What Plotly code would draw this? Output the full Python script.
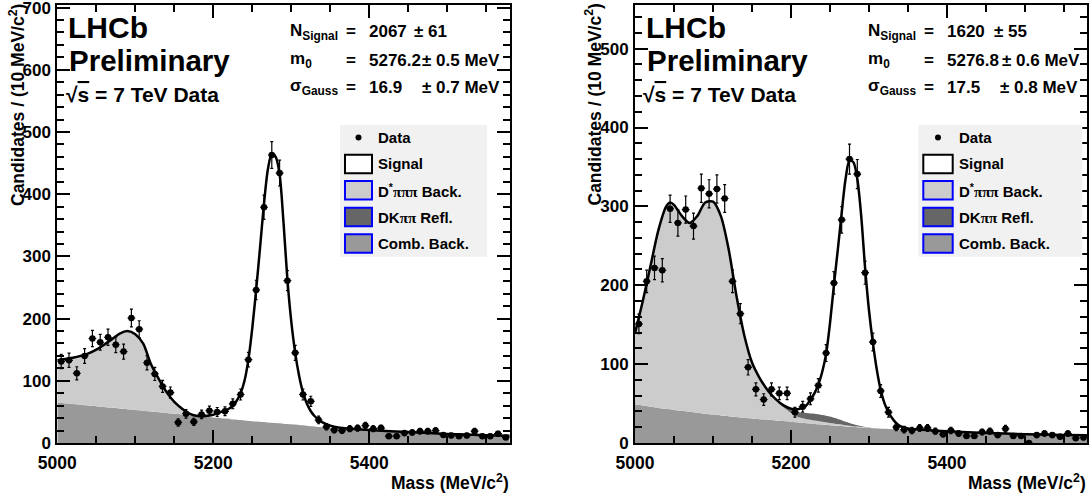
import numpy as np
import plotly.graph_objects as go

W, H = 1092, 496

# ---------------- data ----------------
bin_centers = list(range(5005, 5580, 10))  # 58 bins of 10 MeV

left_counts = [131, 133, 112, 140, 168, 162, 170, 158, 147, 201,
               183, 129, 111, 91, 81, 33, 47, 34, 46, 52,
               50, 51, 63, 78, 134, 246, 379, 463, 434, 261,
               145, 78, 67, 37, 26, 21, 20, 23, 24, 28,
               23, 24, 11, 11, 16, 17, 19, 19, 20, 13,
               12, 11, 12, 19, 11, 11, 15, 9]

right_counts = [151, 205, 222, 219, 297, 279, 296, 275, 323, 316,
                322, 310, 205, 164, 96, 68, 55, 68, 63, 63,
                39, 46, 56, 73, 114, 203, 283, 360, 341, 216,
                128, 66, 39, 20, 17, 16, 19, 19, 15, 11,
                16, 12, 9, 9, 14, 15, 10, 18, 9, 9,
                0, 10, 12, 10, 8, 12, 6, 7]

# background components sampled every 10 MeV (5000..5580)
bkg_x = list(range(5000, 5581, 10))

left_comb = [65, 63.8, 62.6, 61.4, 60.2, 59, 57.8, 56.6, 55.4, 54.2,
             53, 51.8, 50.6, 49.4, 48.2, 47, 45.8, 44.6, 43.4, 42.2,
             41, 39.8, 38.6, 37.4, 36.2, 35, 34, 33, 32, 31,
             30, 28.8, 27.6, 26.4, 25.2, 24, 23.2, 22.4, 21.6, 20.8,
             20, 19.4, 18.8, 18.2, 17.6, 17, 16.4, 15.8, 15.2, 14.6,
             14, 13.6, 13.2, 12.8, 12.4, 12, 11.7, 11.3, 11]
left_dstar = [68, 71.2, 74.4, 78.6, 83.8, 91, 100.2, 110.4, 120.6, 125.8,
              122, 108.2, 76.4, 53.6, 33.8, 19, 9.2, 2.4, 0.8, 0.8,
              0.8, 0.7, 0.6, 0.5, 0.4, 0.3, 0.2, 0.1, 0, 0,
              0, 0, 0, 0, 0, 0, 0, 0, 0, 0,
              0, 0, 0, 0, 0, 0, 0, 0, 0, 0,
              0, 0, 0, 0, 0, 0, 0, 0, 0]
left_dk = [0, 0, 0, 0, 0, 0, 0, 0, 0, 0,
           0, 0, 0, 0, 0, 0, 0, 0, 0, 0,
           0, 0, 0, 0, 0, 0, 0, 0, 0, 0,
           0, 0, 0, 0, 0, 0, 0, 0, 0, 0,
           0, 0, 0, 0, 0, 0, 0, 0, 0, 0,
           0, 0, 0, 0, 0, 0, 0, 0, 0]

right_comb = [49, 47.5, 46, 44.5, 43.3, 42, 40.8, 39.6, 38.4, 37.2,
              36, 35, 34, 33, 32, 31, 30.2, 29.4, 28.6, 27.8,
              27, 26, 25, 24.2, 23.4, 22.5, 21.8, 21, 20.3, 19.6,
              19, 18.5, 18, 17.5, 17, 16.5, 16, 15.7, 15.3, 14.9,
              14.5, 14.1, 13.7, 13.3, 12.9, 12.5, 12.2, 11.9, 11.6, 11.3,
              11, 10.8, 10.6, 10.4, 10.2, 10, 9.8, 9.7, 9.5]
right_dstar = [90, 132.5, 179, 225.5, 256.7, 260, 247.2, 239.4, 249.6, 267.8,
               270, 253, 212, 154, 105, 71, 51.8, 37.6, 26.9, 17.7,
               11, 6.5, 5, 4.3, 3.6, 3, 2.2, 1.5, 0.9, 0.6,
               0.4, 0.2, 0, 0, 0, 0, 0, 0, 0, 0,
               0, 0, 0, 0, 0, 0, 0, 0, 0, 0,
               0, 0, 0, 0, 0, 0, 0, 0, 0]
right_dk = [0, 0, 0, 0, 0, 0, 0, 0, 0, 0,
            0, 0, 0, 0, 0, 0, 0, 0, 0.5, 2,
            4, 6.5, 8, 8.5, 8.5, 8, 6.5, 4.5, 2.5, 1,
            0.3, 0, 0, 0, 0, 0, 0, 0, 0, 0,
            0, 0, 0, 0, 0, 0, 0, 0, 0, 0,
            0, 0, 0, 0, 0, 0, 0, 0, 0]

# total fit curves
left_fit_x = [5000, 5010, 5020, 5030, 5040, 5050, 5060, 5070, 5080, 5090,
              5100, 5110, 5120, 5130, 5140, 5150, 5160, 5170, 5180, 5190,
              5200, 5210, 5220, 5225, 5230, 5235, 5240, 5245, 5250, 5255,
              5260, 5265, 5270, 5275, 5280, 5285, 5290, 5295, 5300, 5305,
              5310, 5315, 5320, 5325, 5330, 5335, 5340, 5350, 5360, 5380,
              5400, 5450, 5500, 5550, 5580]
left_fit_y = [133, 135, 137, 140, 144, 150, 158, 167, 176, 180,
              175, 160, 127, 103, 82, 66, 55, 47, 43.5, 43.5,
              45.5, 50, 55, 60, 68, 80, 100, 134, 185, 247,
              315, 385, 440, 465, 460, 432, 355, 263, 195, 145,
              108, 81, 63, 51, 43, 37.5, 33, 28, 25, 22.5,
              20.7, 17.5, 14.6, 12.5, 11.5]

right_fit_x = [5000, 5010, 5020, 5030, 5040, 5045, 5050, 5060, 5070, 5080,
               5090, 5100, 5110, 5120, 5130, 5140, 5150, 5160, 5170, 5180,
               5190, 5200, 5210, 5215, 5220, 5225, 5230, 5235, 5240, 5245,
               5250, 5255, 5260, 5265, 5270, 5275, 5280, 5285, 5290, 5295,
               5300, 5305, 5310, 5315, 5320, 5325, 5330, 5335, 5340, 5350,
               5360, 5380, 5400, 5450, 5500, 5550, 5580]
right_fit_y = [139, 180, 225, 270, 300, 305, 302, 288, 279, 288,
               305, 306, 288, 246, 187, 137, 102, 82, 67, 56,
               48, 43.5, 43, 45, 48, 55, 63, 74, 90, 113,
               152, 200, 245, 292, 335, 358, 356, 335, 288, 222,
               168, 127, 93, 67, 50, 39, 31, 25, 21.5, 18.5,
               17.3, 16, 15, 12.8, 11.2, 10.2, 9.8]

left_stats = [("N<sub>Signal</sub>", "2067", "± 61"),
              ("m<sub>0</sub>", "5276.2", "± 0.5 MeV"),
              ("σ<sub>Gauss</sub>", "16.9", "± 0.7 MeV")]
right_stats = [("N<sub>Signal</sub>", "1620", "± 55"),
               ("m<sub>0</sub>", "5276.8", "± 0.6 MeV"),
               ("σ<sub>Gauss</sub>", "17.5", "± 0.8 MeV")]

legend_labels = ["Data", "Signal",
                 "D<sup>*</sup><span style='font-family:Liberation Serif'>πππ</span> Back.",
                 "DK<span style='font-family:Liberation Serif'>ππ</span> Refl.",
                 "Comb. Back."]

x_range = [5000, 5580]
left_y_range = [0, 705]
right_y_range = [0, 556]

# ---------------- style ----------------
FONT = "Liberation Sans, Arial, Helvetica, sans-serif"
COMB_C, DSTAR_C, DK_C = "#999999", "#cccccc", "#666666"


def PX(x):
    return x / W


def PY(y):
    return 1 - y / H


fig = go.Figure()


def add_panel(xa, ya, counts, fit_x, fit_y, comb, dstar, dk):
    c = np.array(comb, dtype=float)
    d = np.array(dstar, dtype=float)
    k = np.array(dk, dtype=float)
    common = dict(mode="lines", xaxis=xa, yaxis=ya, hoverinfo="skip", showlegend=False)
    fig.add_trace(go.Scatter(x=bkg_x, y=c, fill="tozeroy", fillcolor=COMB_C,
                             line=dict(width=0, shape="spline", smoothing=0.7), **common))
    fig.add_trace(go.Scatter(x=bkg_x, y=c + d, fill="tonexty", fillcolor=DSTAR_C,
                             line=dict(width=0, shape="spline", smoothing=0.7), **common))
    fig.add_trace(go.Scatter(x=bkg_x, y=c + d + k, fill="tonexty", fillcolor=DK_C,
                             line=dict(width=0, shape="spline", smoothing=0.7), **common))
    fig.add_trace(go.Scatter(x=fit_x, y=fit_y, line=dict(color="black", width=2.5, shape="spline", smoothing=0.8),
                             **common))
    cnt = np.array(counts, dtype=float)
    fig.add_trace(go.Scatter(x=bin_centers, y=cnt, mode="markers", xaxis=xa, yaxis=ya, showlegend=False,
                             marker=dict(color="black", size=6.5),
                             error_y=dict(type="data", array=np.sqrt(cnt), color="black", thickness=1.2, width=1.5),
                             error_x=dict(type="constant", value=5, color="black", thickness=1.2, width=0)))


add_panel("x", "y", left_counts, left_fit_x, left_fit_y, left_comb, left_dstar, left_dk)
add_panel("x2", "y2", right_counts, right_fit_x, right_fit_y, right_comb, right_dstar, right_dk)

ydom = [PY(443), PY(4.5)]


def xaxis_cfg(dom, anchor):
    return dict(domain=dom, range=x_range, anchor=anchor, automargin=False,
                showline=True, linecolor="black", linewidth=2, mirror="allticks",
                ticks="inside", ticklen=13, tickwidth=1.5, tickcolor="black", dtick=200, tick0=5000,
                minor=dict(dtick=50, ticks="inside", ticklen=7, tickwidth=1.5, tickcolor="black"),
                showgrid=False, zeroline=False, ticklabelstandoff=3, ticklabeloverflow="allow",
                tickfont=dict(family=FONT, size=17.5, color="black", weight="bold"))


def yaxis_cfg(anchor, rng):
    return dict(domain=ydom, range=rng, anchor=anchor, automargin=False,
                showline=True, linecolor="black", linewidth=2,
                mirror="allticks", ticks="inside", ticklen=13, tickwidth=1.5, tickcolor="black", dtick=100,
                minor=dict(dtick=20, ticks="inside", ticklen=7, tickwidth=1.5, tickcolor="black"),
                showgrid=False, zeroline=False, ticklabelstandoff=1, ticklabeloverflow="allow",
                tickfont=dict(family=FONT, size=17, color="black", weight="bold"))


annotations = []
shapes = []


def txt(x, y, text, size, xanchor="left", yanchor="middle", angle=0):
    annotations.append(dict(x=PX(x), y=PY(y), xref="paper", yref="paper", text=text, showarrow=False,
                            xanchor=xanchor, yanchor=yanchor, textangle=angle,
                            font=dict(family=FONT, size=size, color="black", weight="bold")))


panels = [
    dict(pl=57.3, pr=509.7, stats=left_stats, lhcb=68, sqrts=64, nx=288, eqx=344, vx=367,
         pmx=[412, 420, 419.5], leg=(340, 487), leg_sym=345, leg_sym_w=27, leg_txt=376, ytitle_x=17),
    dict(pl=635, pr=1087.4, stats=right_stats, lhcb=646, sqrts=641, nx=866, eqx=922, vx=945,
         pmx=[992, 999.5, 997.5], leg=(918.3, 1082.3), leg_sym=923.3, leg_sym_w=29.4, leg_txt=957,
         ytitle_x=593.5),
]

for p in panels:
    txt(p["lhcb"] - 2, 28, "LHCb", 30)
    txt(p["lhcb"] - 1, 60, "Preliminary", 29.5)
    txt(p["sqrts"], 94.5, "√<span style='text-decoration:overline'>s</span> = 7 TeV Data", 21)
    rows_y = [32, 60, 87]
    for (lab, val, err), ry, pmx in zip(p["stats"], rows_y, p["pmx"]):
        txt(p["nx"], ry, lab, 17)
        txt(p["eqx"], ry, "=", 17)
        txt(p["vx"], ry, val, 17)
        txt(pmx, ry, err, 17)
    # y title
    txt(p["ytitle_x"], 2, "Candidates / (10 MeV/c<sup>2</sup>)", 17.5, xanchor="center", yanchor="top", angle=-90)
    # x title
    txt(p["pr"] + 1, 481.5, "Mass (MeV/c<sup>2</sup>)", 17.5, xanchor="right")
    # legend box
    lx0, lx1 = p["leg"]
    shapes.append(dict(type="rect", xref="paper", yref="paper", x0=PX(lx0), x1=PX(lx1), y0=PY(256.7), y1=PY(125),
                       fillcolor="#f1f1f1", line=dict(width=0), layer="above"))
    rows = [137.5, 164, 190.3, 217, 243.5]
    cx = p["leg_sym"] + p["leg_sym_w"] / 2
    shapes.append(dict(type="circle", xref="paper", yref="paper", x0=PX(cx - 3), x1=PX(cx + 3),
                       y0=PY(rows[0] + 3), y1=PY(rows[0] - 3), fillcolor="black", line=dict(width=0),
                       layer="above"))
    box_styles = [("white", "black"), (DSTAR_C, "#0000ff"), (DK_C, "#0000ff"), (COMB_C, "#0000ff")]
    for (fc, lc), ry in zip(box_styles, rows[1:]):
        shapes.append(dict(type="rect", xref="paper", yref="paper", x0=PX(p["leg_sym"]),
                           x1=PX(p["leg_sym"] + p["leg_sym_w"]), y0=PY(ry + 9.2), y1=PY(ry - 9.2),
                           fillcolor=fc, line=dict(color=lc, width=2), layer="above"))
    for lab, ry in zip(legend_labels, rows):
        txt(p["leg_txt"], ry, lab, 15)

fig.update_layout(
    width=W, height=H, autosize=False,
    margin=dict(l=0, r=0, t=0, b=0, pad=0, autoexpand=False),
    paper_bgcolor="white", plot_bgcolor="white", showlegend=False,
    xaxis=xaxis_cfg([PX(57.3), PX(509.7)], "y"),
    yaxis=yaxis_cfg("x", left_y_range),
    xaxis2=xaxis_cfg([PX(635), PX(1087.4)], "y2"),
    yaxis2=yaxis_cfg("x2", right_y_range),
    annotations=annotations, shapes=shapes,
)

fig.write_html("out.html", config=dict(responsive=False, displayModeBar=False),
               post_script="document.body.style.margin='0';document.body.style.overflow='hidden';")
